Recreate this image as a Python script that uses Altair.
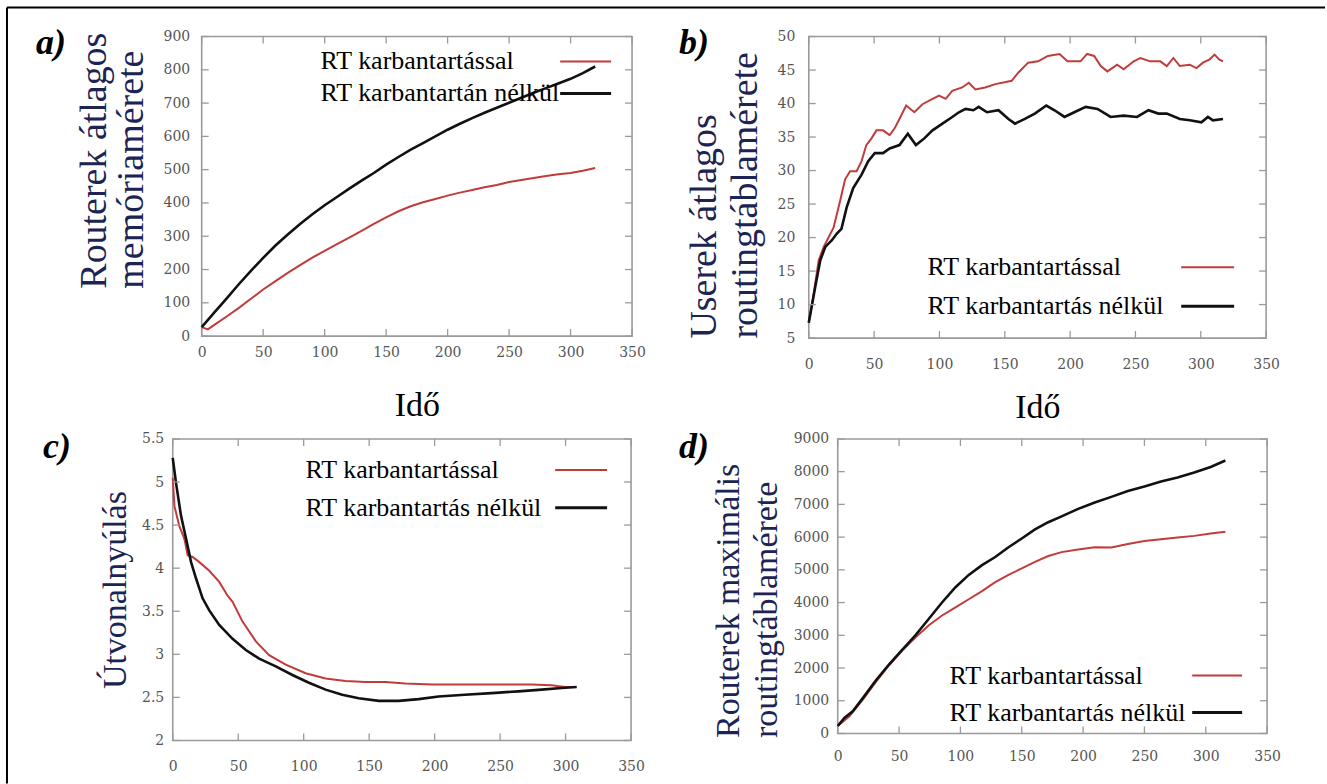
import altair as alt
import pandas as pd

RED = "#c23b3b"
BLACK = "#111111"
GRAY = "#9a9a9a"
NAVY = "#1b2452"
SERIF = "'Liberation Serif', 'Times New Roman', Times, 'DejaVu Serif', serif"
TICKFONT = "'DejaVu Serif', serif"

x_ticks = [0, 50, 100, 150, 200, 250, 300, 350]

# ---------------- panel a ----------------
a_red_t = [0, 5, 10, 20, 30, 40, 50, 60, 70, 80, 90, 100, 110, 120, 130, 140, 150, 160,
           170, 180, 190, 200, 210, 220, 230, 240, 250, 260, 270, 280, 290, 300, 310, 320]
a_red_v = [27, 20, 33, 58, 84, 112, 140, 165, 190, 213, 236, 256, 276, 296, 316, 337, 357, 375,
           390, 402, 412, 422, 431, 439, 447, 454, 463, 469, 475, 481, 486, 490, 497, 505]
a_blk_t = [0, 10, 20, 30, 40, 50, 60, 70, 80, 90, 100, 110, 120, 130, 140, 150, 160, 170,
           180, 190, 200, 210, 220, 230, 240, 250, 260, 270, 280, 290, 300, 310, 320]
a_blk_v = [27, 70, 112, 155, 196, 235, 272, 305, 337, 366, 393, 418, 443, 467, 490, 515, 538, 560,
           580, 600, 620, 638, 655, 671, 686, 701, 716, 731, 745, 759, 773, 790, 810]
a_yticks = [0, 100, 200, 300, 400, 500, 600, 700, 800, 900]
a_legend = ["RT karbantartással", "RT karbantartán nélkül"]

# ---------------- panel b ----------------
b_red_t = [0, 3.8, 7.6, 11.4, 19, 24, 27.8, 31.6, 36.6, 40.4, 44, 48, 51.8, 56.8, 61.9, 65.7,
           69.4, 74.5, 80.8, 87, 94.7, 99.7, 104.8, 109.8, 117.4, 122.5, 127.5, 135, 142.7,
           155.3, 160.3, 167.9, 175.5, 183, 191.9, 198, 208, 213, 218.4, 223.5, 228.5, 236,
           241, 248.7, 253.8, 261.3, 269, 274, 279, 284, 291.6, 296.7, 301.7, 306.8, 310.6,
           314, 317]
b_red_v = [7.3, 11.7, 16.6, 18.6, 21.5, 25.5, 28.7, 29.9, 29.9, 31.4, 33.8, 34.8, 36, 36, 35.3,
           36.3, 37.7, 39.7, 38.7, 39.9, 40.7, 41.2, 40.7, 41.9, 42.4, 43.1, 42.1, 42.4, 42.9,
           43.4, 44.6, 46.1, 46.3, 47.1, 47.4, 46.3, 46.3, 47.4, 47.1, 45.6, 44.8, 45.8, 45.1,
           46.3, 46.8, 46.3, 46.3, 45.6, 46.8, 45.6, 45.8, 45.3, 46.1, 46.6, 47.3, 46.6, 46.3]
b_blk_t = [0, 5, 8.8, 12.6, 17.7, 21.5, 25, 29, 34, 40.4, 45.5, 50.5, 56.8, 61.9, 69.4, 75.8,
           82, 88.4, 94.7, 102.3, 109.8, 114.9, 120, 126, 130, 136.4, 145.2, 152.8, 157.8,
           165.4, 173, 181.8, 188.1, 195.7, 203.2, 212, 221, 231, 241, 251.2, 260, 267.5,
           274, 284, 291.6, 300.5, 305.5, 309.3, 317]
b_blk_v = [7.3, 12.7, 16.6, 18.6, 19.6, 20.6, 21.3, 24.5, 27.4, 29.4, 31.4, 32.6, 32.6, 33.3,
           33.8, 35.5, 33.8, 34.8, 36, 37, 38, 38.7, 39.2, 39, 39.5, 38.7, 39, 37.7, 37, 37.7,
           38.5, 39.7, 39, 38, 38.7, 39.5, 39.2, 38, 38.2, 38, 39, 38.5, 38.5, 37.7, 37.5,
           37.2, 38, 37.5, 37.7]
b_yticks = [5, 10, 15, 20, 25, 30, 35, 40, 45, 50]
b_legend = ["RT karbantartással", "RT karbantartás nélkül"]

# ---------------- panel c ----------------
c_red_t = [0, 1.3, 5, 8.9, 11.4, 15.2, 20.3, 27.9, 35.5, 41.9, 45.7, 53.3, 63.5, 73.6, 86.3,
           101.5, 116.7, 132, 147, 162.4, 177.7, 198, 218.3, 238.6, 259, 274, 289.3, 299.5,
           308.4]
c_red_v = [5.05, 4.72, 4.49, 4.34, 4.15, 4.13, 4.07, 3.97, 3.84, 3.68, 3.61, 3.38, 3.15, 2.99,
           2.88, 2.78, 2.72, 2.69, 2.68, 2.68, 2.66, 2.65, 2.65, 2.65, 2.65, 2.65, 2.64, 2.62,
           2.62]
c_blk_t = [0, 2.5, 6.3, 10.2, 14, 17.8, 22.8, 27.9, 35.5, 45.7, 55.8, 66, 78.7, 91.4, 104,
           116.7, 129.4, 142, 157.4, 172.6, 187.8, 203, 223, 243.6, 264, 281.7, 297, 308.4]
c_blk_v = [5.28, 4.99, 4.61, 4.34, 4.07, 3.88, 3.65, 3.51, 3.34, 3.18, 3.05, 2.95, 2.86, 2.76,
           2.67, 2.59, 2.53, 2.49, 2.46, 2.46, 2.48, 2.51, 2.53, 2.55, 2.57, 2.59, 2.61, 2.62]
c_yticks = [2, 2.5, 3, 3.5, 4, 4.5, 5, 5.5]
c_legend = ["RT karbantartással", "RT karbantartás nélkül"]

# ---------------- panel d ----------------
d_red_t = [0, 9.5, 20.3, 31, 41.9, 52.7, 63.5, 74.3, 85, 96, 106.8, 117.6, 128.4, 139.2, 150,
           160.8, 171.6, 182.5, 196, 209.5, 223, 236.5, 250, 263.5, 277, 290.6, 304, 316]
d_red_v = [228, 526, 1023, 1569, 2085, 2542, 2939, 3307, 3605, 3853, 4101, 4349, 4627, 4846,
           5044, 5243, 5422, 5541, 5620, 5690, 5680, 5789, 5879, 5938, 5988, 6038, 6107, 6167]
d_blk_t = [0, 5.4, 12.2, 20.3, 31, 41.9, 52.7, 63.5, 74.3, 85, 96, 106.8, 117.6, 128.4, 139.2,
           150, 160.8, 171.6, 182.5, 196, 209.5, 223, 236.5, 250, 263.5, 277, 290.6, 304, 316]
d_blk_v = [228, 477, 675, 1072, 1619, 2115, 2562, 3009, 3505, 4002, 4469, 4846, 5144, 5392,
           5690, 5958, 6236, 6455, 6633, 6862, 7060, 7229, 7408, 7547, 7696, 7825, 7974, 8143,
           8341]
d_yticks = [0, 1000, 2000, 3000, 4000, 5000, 6000, 7000, 8000, 9000]
d_legend = ["RT karbantartással", "RT karbantartás nélkül"]

panel_tags = ["a)", "b)", "c)", "d)"]
x_title = "Idő"
a_ytitle = ["Routerek átlagos", "memóriamérete"]
b_ytitle = ["Userek átlagos", "routingtáblamérete"]
c_ytitle = "Útvonalnyúlás"
d_ytitle = ["Routerek maximális", "routingtáblamérete"]

LABEL_EXPR = "'' + datum.value"
TICK = 7


def panel(W, H, ydom, yticks, red_t, red_v, blk_t, blk_v, legend, lx, ly, lline,
          ytitle, ytx, yty, tsize, tlh, xtitle_y, tag, tagx, tagy, xpad, ypad,
          border=False):
    xs = alt.Scale(domain=[0, 350], nice=False, zero=False)
    ys = alt.Scale(domain=ydom, nice=False, zero=False)
    xaxis_kw = dict(values=x_ticks, labelExpr=LABEL_EXPR, labelFlush=False,
                    labelPadding=xpad, domain=False, ticks=False, grid=False,
                    labelFont=TICKFONT, labelFontSize=14, labelColor="#555555")
    if xtitle_y is not None:
        xaxis = alt.Axis(title=x_title, titleY=xtitle_y, titleBaseline="alphabetic",
                         titleFontSize=34, titleColor="black", titleFont=SERIF,
                         titleFontWeight="normal", **xaxis_kw)
    else:
        xaxis = alt.Axis(title=None, **xaxis_kw)
    yaxis = alt.Axis(values=yticks, labelExpr=LABEL_EXPR, labelPadding=ypad,
                     domain=False, ticks=False, grid=False,
                     labelFont=TICKFONT, labelFontSize=14, labelColor="#555555",
                     title=ytitle, titleX=ytx, titleY=yty, titleAngle=270,
                     titleAlign="left", titleBaseline="alphabetic", titleFontSize=tsize,
                     titleLineHeight=tlh, titleColor=NAVY, titleFont=SERIF,
                     titleFontWeight="normal")

    def X(f="t"):
        return alt.X(f + ":Q", scale=xs, axis=xaxis)

    def Y(f="v"):
        return alt.Y(f + ":Q", scale=ys, axis=yaxis)

    red = alt.Chart(pd.DataFrame({"t": red_t, "v": red_v})).mark_line(
        color=RED, strokeWidth=2).encode(x=X(), y=Y())
    blk = alt.Chart(pd.DataFrame({"t": blk_t, "v": blk_v})).mark_line(
        color=BLACK, strokeWidth=2.6).encode(x=X(), y=Y())

    xt = pd.DataFrame({"t": x_ticks})
    yt = pd.DataFrame({"v": yticks})
    tb = alt.Chart(xt).mark_rule(color=GRAY, strokeWidth=1.3).encode(
        x=X(), y=alt.value(H), y2=alt.value(H - TICK))
    tt = alt.Chart(xt).mark_rule(color=GRAY, strokeWidth=1.3).encode(
        x=X(), y=alt.value(0), y2=alt.value(TICK))
    tl = alt.Chart(yt).mark_rule(color=GRAY, strokeWidth=1.3).encode(
        y=Y(), x=alt.value(0), x2=alt.value(TICK))
    tr = alt.Chart(yt).mark_rule(color=GRAY, strokeWidth=1.3).encode(
        y=Y(), x=alt.value(W), x2=alt.value(W - TICK))

    layers = [red, blk, tb, tt, tl, tr]
    # legend
    for i, (lab, col, sw) in enumerate([(legend[0], RED, 2), (legend[1], BLACK, 3)]):
        ldf = pd.DataFrame({"lbl": [lab]})
        layers.append(alt.Chart(ldf).mark_text(
            align="left", baseline="middle", font=SERIF, fontSize=26, color="black").encode(
            x=alt.value(lx), y=alt.value(ly[i]), text="lbl:N"))
        layers.append(alt.Chart(ldf).mark_rule(color=col, strokeWidth=sw).encode(
            x=alt.value(lline[0]), x2=alt.value(lline[1]), y=alt.value(ly[i])))
    # panel tag
    layers.append(alt.Chart(pd.DataFrame({"tag": [tag]})).mark_text(
        align="left", baseline="alphabetic", font=SERIF, fontSize=36,
        fontStyle="italic", fontWeight="bold", color="black").encode(
        x=alt.value(tagx), y=alt.value(tagy), text="tag:N"))
    if border:
        bdf = pd.DataFrame({"b": [0]})
        layers.append(alt.Chart(bdf).mark_rule(color="black", strokeWidth=2).encode(
            x=alt.value(-195), y=alt.value(-29), y2=alt.value(748)))
        layers.append(alt.Chart(bdf).mark_rule(color="black", strokeWidth=2).encode(
            x=alt.value(-195), x2=alt.value(1125), y=alt.value(-29)))
    return alt.layer(*layers).properties(
        width=W, height=H,
        view=alt.ViewBackground(stroke=GRAY, strokeWidth=1.6))


def spacer(w):
    return alt.Chart(pd.DataFrame({"v": [0]})).mark_point(opacity=0).encode(
        x=alt.value(0), y=alt.value(0)).properties(
        width=w, height=1, view=alt.ViewBackground(stroke="transparent"))


pa = panel(431, 300, [0, 900], a_yticks, a_red_t, a_red_v, a_blk_t, a_blk_v, a_legend,
           119, [25, 57], [359, 410], a_ytitle, -96, 252, 38, 37, 80, panel_tags[0],
           -166, 17, 9, 12, border=True)
pb = panel(458, 302, [5, 50], b_yticks, b_red_t, b_red_v, b_blk_t, b_blk_v, b_legend,
           119, [231, 270], [373, 426], b_ytitle, -93, 302, 38, 41, 80, panel_tags[1],
           -130, 17, 19, 14)
pc = panel(459, 302, [2, 5.5], c_yticks, c_red_t, c_red_v, c_blk_t, c_blk_v, c_legend,
           133, [31, 69], [383, 435], c_ytitle, -47, 250, 34, 37, None, panel_tags[2],
           -130, 19, 19, 9)
pd_ = panel(430, 295, [0, 9000], d_yticks, d_red_t, d_red_v, d_blk_t, d_blk_v, d_legend,
            112, [237, 274], [355, 405], d_ytitle, -99, 299, 34, 38, None, panel_tags[3],
            -159, 19, 16, 9)

row1 = alt.hconcat(spacer(29), pa, spacer(177), pb, spacing=0, bounds="flush")
row2 = alt.hconcat(pc, spacer(207), pd_, spacing=0, bounds="flush")

chart = alt.vconcat(row1, row2, spacing=403, bounds="flush").properties(
    padding={"left": 5, "top": 5, "right": 0, "bottom": 0},
    background="white",
).configure_view(stroke=GRAY)

chart.save("out.html", embed_options={"renderer": "svg", "actions": False})
